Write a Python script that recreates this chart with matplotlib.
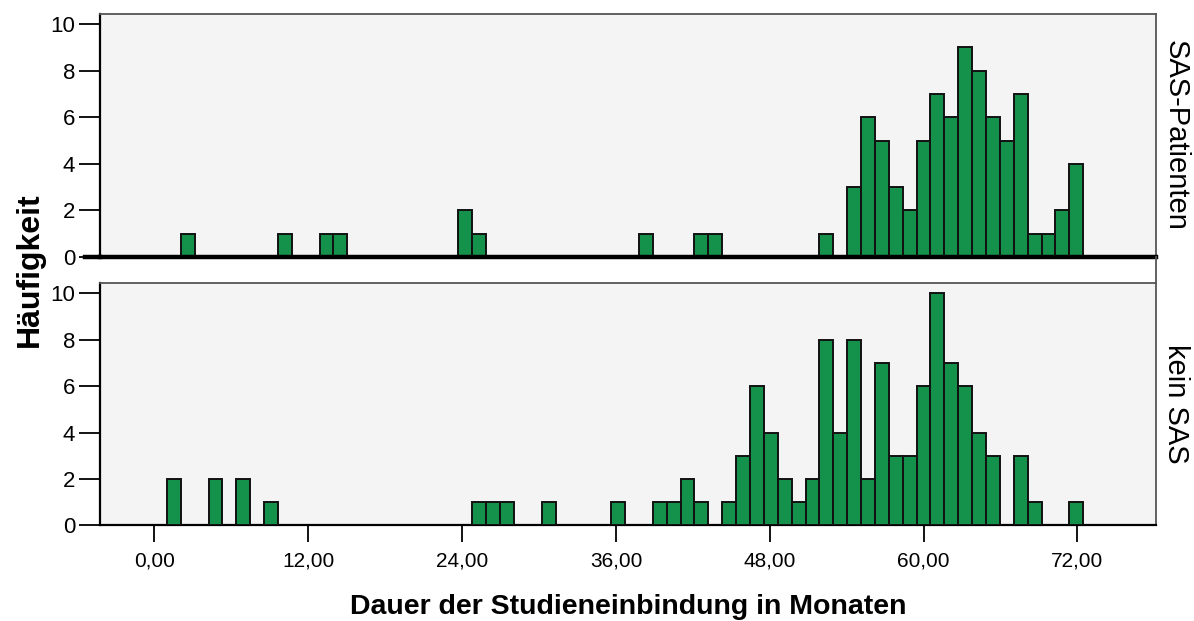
import numpy as np
import matplotlib.pyplot as plt
from matplotlib.lines import Line2D

# histogram bins (months)
bin_start = 0.97
bin_width = 1.083
n_bins = 66

# bin index -> count
sas_counts = {1: 1, 8: 1, 11: 1, 12: 1, 21: 2, 22: 1, 34: 1, 38: 1, 39: 1, 47: 1,
              49: 3, 50: 6, 51: 5, 52: 3, 53: 2, 54: 5, 55: 7, 56: 6, 57: 9, 58: 8,
              59: 6, 60: 5, 61: 7, 62: 1, 63: 1, 64: 2, 65: 4}
kein_counts = {0: 2, 3: 2, 5: 2, 7: 1, 22: 1, 23: 1, 24: 1, 27: 1, 32: 1, 35: 1,
               36: 1, 37: 2, 38: 1, 40: 1,
               41: 3, 42: 6, 43: 4, 44: 2, 45: 1, 46: 2, 47: 8, 48: 4, 49: 8, 50: 2,
               51: 7, 52: 3, 53: 3, 54: 6, 55: 10, 56: 7, 57: 6, 58: 4, 59: 3,
               61: 3, 62: 1, 65: 1}

panel_labels = ['SAS-Patienten', 'kein SAS']
x_ticks = [0, 12, 24, 36, 48, 60, 72]
x_tick_labels = ['0,00', '12,00', '24,00', '36,00', '48,00', '60,00', '72,00']
y_ticks = [0, 2, 4, 6, 8, 10]

bar_color = '#14914a'
panel_bg = '#f4f4f4'
font = ['Liberation Sans', 'DejaVu Sans']
plt.rcParams['font.family'] = font

edges = bin_start + bin_width * np.arange(n_bins)

fig = plt.figure(figsize=(11.94, 6.21), dpi=100)
ax_top = fig.add_axes([0.0838, 0.5862, 0.8841, 0.3913])
ax_bot = fig.add_axes([0.0838, 0.1538, 0.8841, 0.3905])

for ax, counts, label in [(ax_top, sas_counts, panel_labels[0]),
                          (ax_bot, kein_counts, panel_labels[1])]:
    idx = np.array(sorted(counts))
    vals = np.array([counts[i] for i in idx])
    ax.bar(edges[idx], vals, width=bin_width, align='edge',
           color=bar_color, edgecolor='#111111', linewidth=1.4, zorder=3)
    ax.set_facecolor(panel_bg)
    ax.set_xlim(-4.24, 78.1)
    ax.set_ylim(0, 10.44)
    ax.set_yticks(y_ticks)
    ax.set_yticklabels([str(v) for v in y_ticks], fontsize=16)
    ax.tick_params(axis='y', direction='out', length=15, width=1.3, pad=3, color='black')
    ax.spines['left'].set_color('black')
    ax.spines['left'].set_linewidth(1.6)
    for side in ['top', 'right']:
        ax.spines[side].set_color('#555555')
        ax.spines[side].set_linewidth(1.3)
    ax.text(1.006, 0.5, label, transform=ax.transAxes, rotation=-90,
            ha='left', va='center', fontsize=21)

# top panel: no x ticks, heavy zero line
ax_top.set_xticks([])
ax_top.spines['bottom'].set_visible(False)
ax_top.axhline(0, color='black', linewidth=3.2, zorder=4, clip_on=False)
ax_top.plot([-5.4, -4.24], [0, 0], color='black', linewidth=3.2, clip_on=False, zorder=4)

ax_bot.spines['bottom'].set_color('black')
ax_bot.spines['bottom'].set_linewidth(1.6)
ax_bot.set_xticks(x_ticks)
ax_bot.set_xticklabels(x_tick_labels, fontsize=15)
ax_bot.tick_params(axis='x', direction='out', length=12, width=1.3, pad=7, color='black')
ax_bot.set_xlabel('Dauer der Studieneinbindung in Monaten', fontsize=20.5,
                  fontweight='bold', labelpad=17)

fig.text(0.025, 0.565, 'Häufigkeit', rotation=90, ha='center', va='center',
         fontsize=23, fontweight='bold')

# right border runs through the gap between the panels
x_r = 0.0838 + 0.8841
fig.add_artist(Line2D([x_r, x_r], [0.5443, 0.5862], color='#555555', linewidth=1.3))

fig.savefig('out.png', dpi=100, facecolor='white')
